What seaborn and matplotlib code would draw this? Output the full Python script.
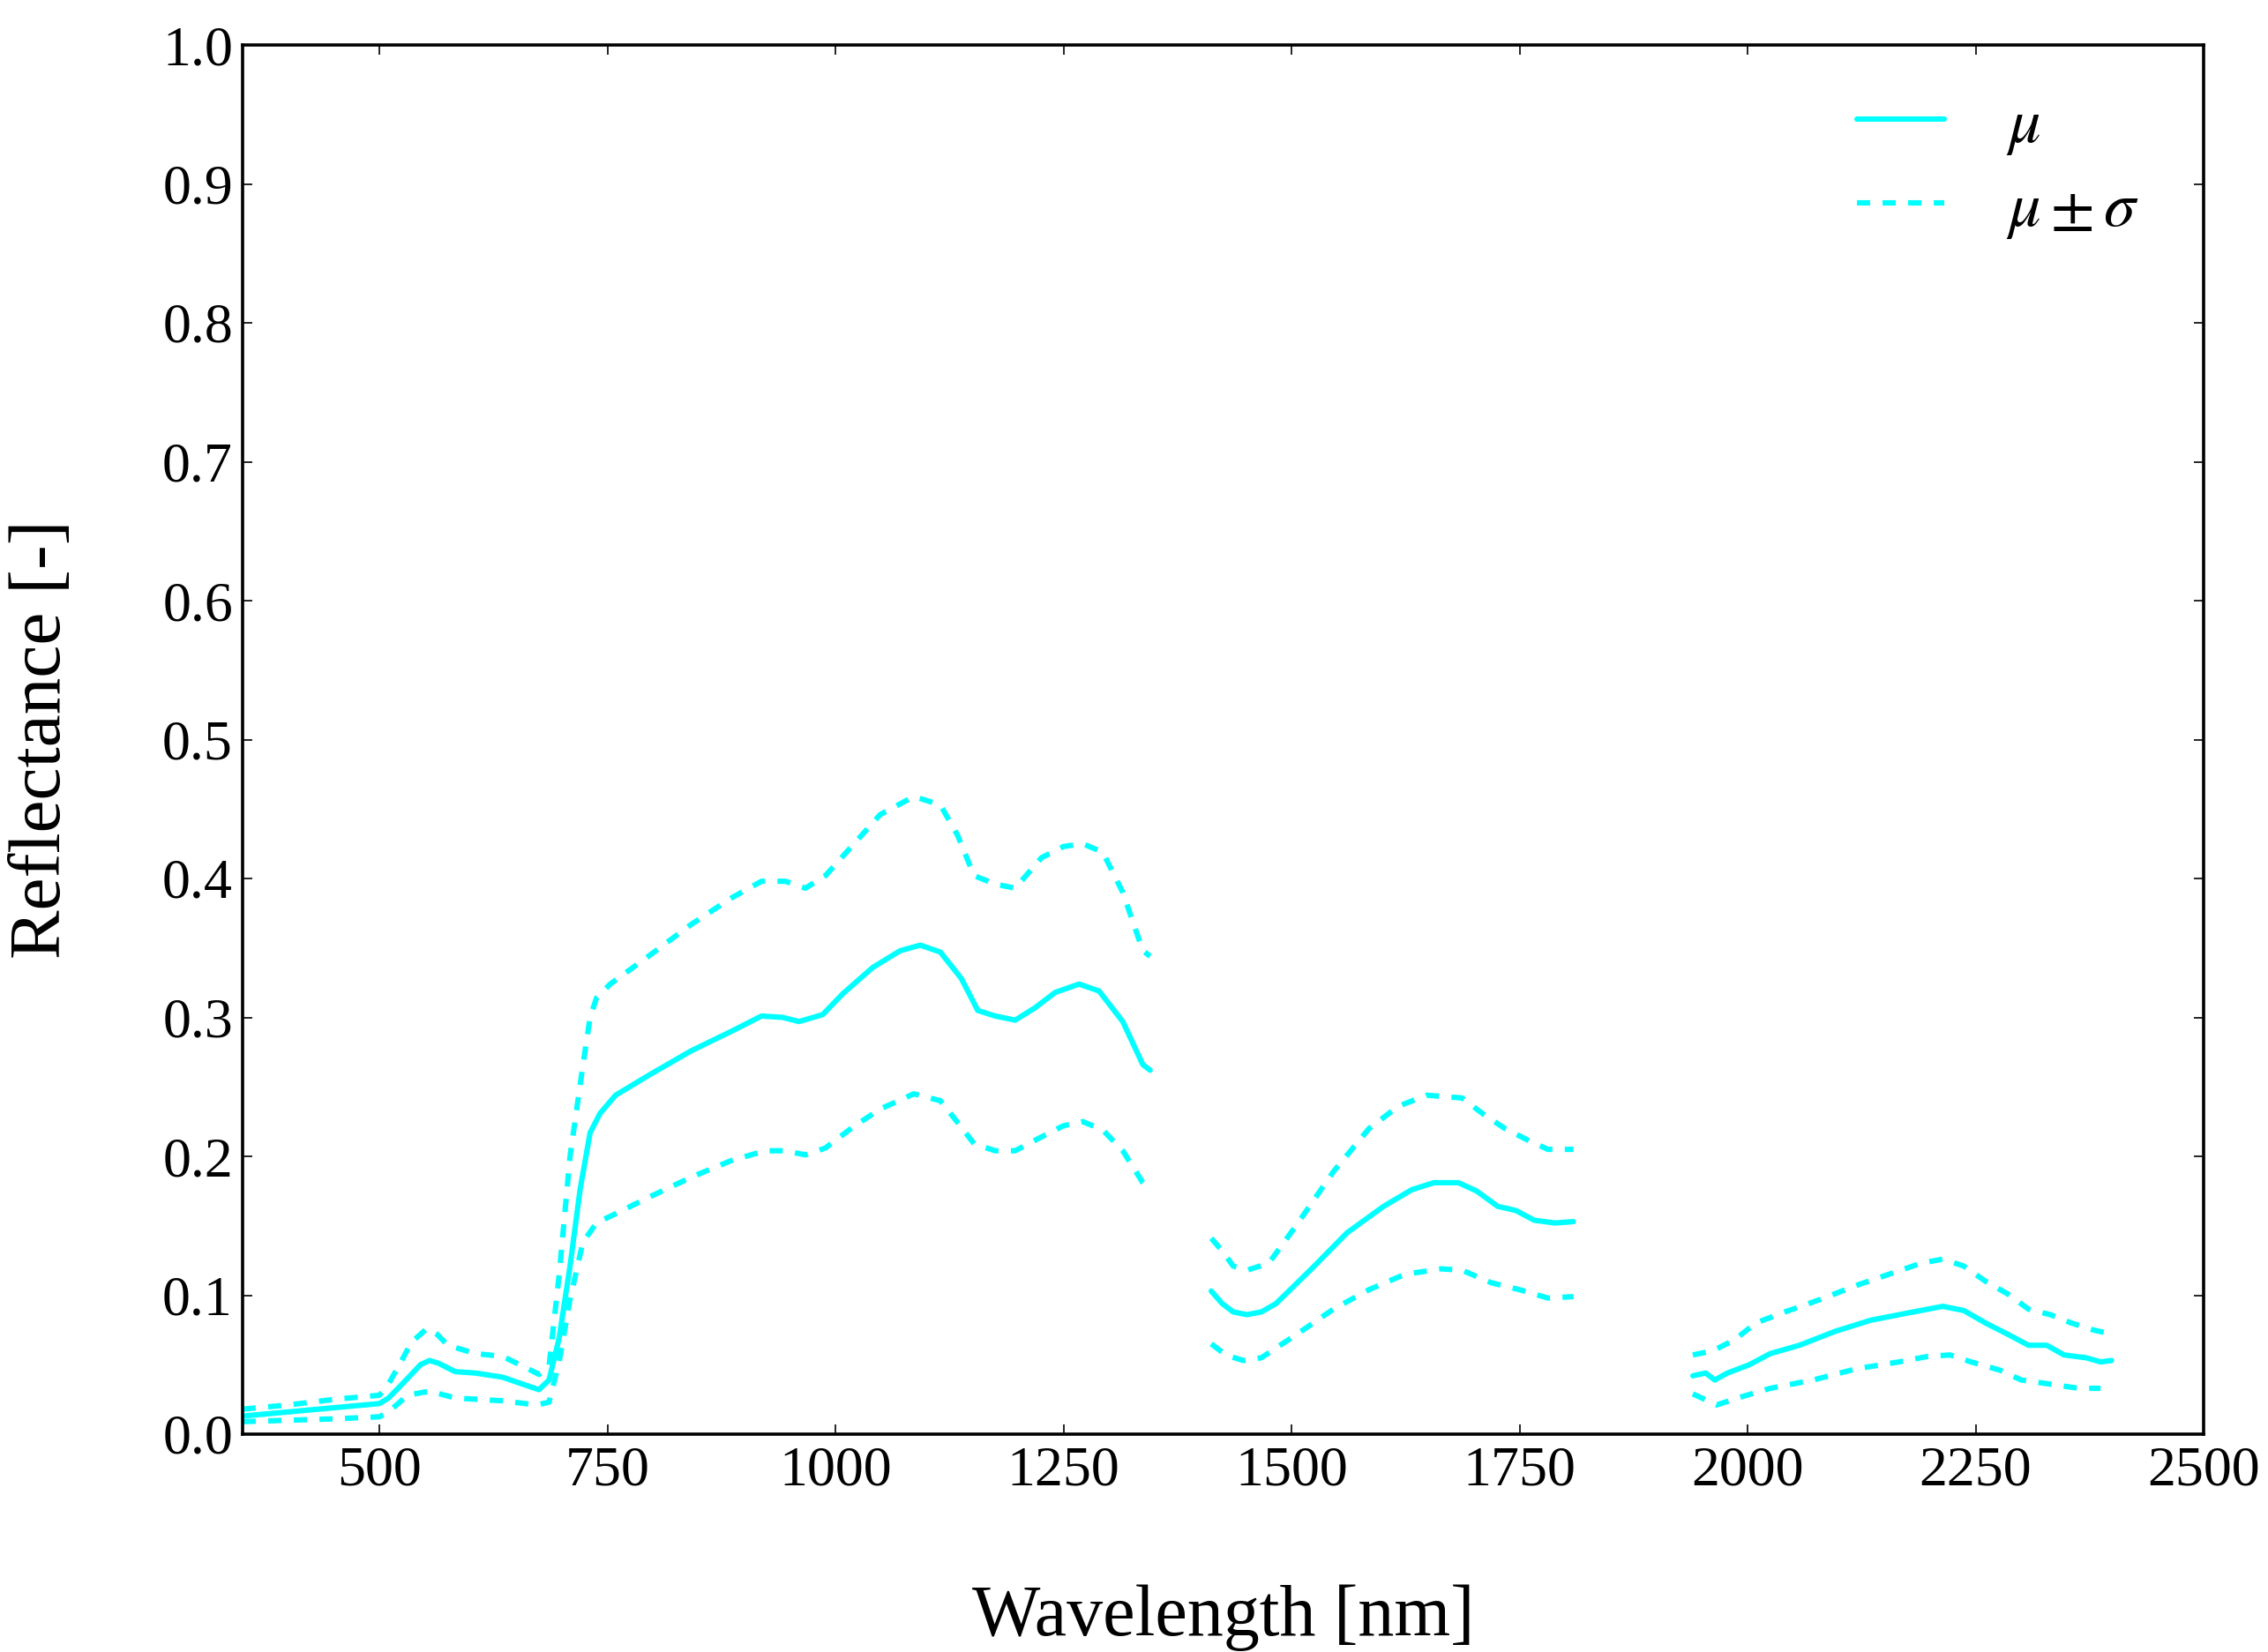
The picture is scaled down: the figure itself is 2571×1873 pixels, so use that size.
import numpy as np
import pandas as pd
import matplotlib
matplotlib.use("Agg")
import matplotlib.pyplot as plt
import seaborn as sns
from matplotlib.lines import Line2D

# ---- data ----
mean_wl = [350, 400, 450, 500, 510, 522, 535, 545, 555, 565, 583, 605, 635, 657, 675, 686, 697, 709, 720,
           731, 742, 759, 797, 842, 886, 919, 942, 960, 986, 1008, 1041, 1071, 1093, 1115, 1138, 1156,
           1175, 1197, 1219, 1241, 1267, 1289, 1315, 1337, 1345,
           1412, 1424, 1436, 1451, 1467, 1483, 1522, 1561, 1601, 1632, 1656, 1683, 1703, 1726, 1746,
           1766, 1789, 1809,
           1940, 1954, 1964, 1978, 2002, 2025, 2057, 2096, 2135, 2174, 2214, 2237, 2261, 2285, 2308,
           2328, 2347, 2371, 2387, 2399]
mean_val = [0.013, 0.016, 0.019, 0.022, 0.026, 0.034, 0.043, 0.050, 0.053, 0.051, 0.045, 0.044, 0.041,
            0.036, 0.032, 0.039, 0.069, 0.121, 0.176, 0.217, 0.231, 0.244, 0.259, 0.276, 0.290, 0.301,
            0.300, 0.297, 0.302, 0.317, 0.336, 0.348, 0.352, 0.347, 0.328, 0.305, 0.301, 0.298, 0.307,
            0.318, 0.324, 0.319, 0.297, 0.266, 0.262,
            0.103, 0.094, 0.088, 0.086, 0.088, 0.094, 0.119, 0.145, 0.164, 0.176, 0.181, 0.181, 0.175,
            0.164, 0.161, 0.154, 0.152, 0.153,
            0.042, 0.044, 0.039, 0.044, 0.050, 0.058, 0.064, 0.074, 0.082, 0.087, 0.092, 0.089, 0.080,
            0.072, 0.064, 0.064, 0.057, 0.055, 0.052, 0.053]

upper_wl = [350, 400, 450, 500, 509, 522, 535, 552, 563, 575, 605, 635, 657, 675, 686, 697, 709, 723,
            731, 738, 753, 797, 842, 886, 919, 945, 967, 989, 1019, 1049, 1086, 1115, 1134, 1152, 1175,
            1197, 1226, 1250, 1271, 1293, 1315, 1337, 1345,
            1412, 1424, 1436, 1451, 1475, 1506, 1546, 1585, 1617, 1648, 1687, 1711, 1734, 1758, 1781,
            1809,
            1940, 1962, 1986, 2009, 2041, 2080, 2119, 2159, 2190, 2214, 2237, 2261, 2285, 2308, 2332,
            2355, 2379, 2399]
upper_val = [0.018, 0.021, 0.025, 0.028, 0.035, 0.050, 0.066, 0.076, 0.072, 0.064, 0.058, 0.056, 0.049,
             0.043, 0.049, 0.114, 0.200, 0.265, 0.300, 0.314, 0.324, 0.345, 0.367, 0.386, 0.398, 0.398,
             0.393, 0.402, 0.424, 0.446, 0.459, 0.453, 0.431, 0.402, 0.396, 0.393, 0.415, 0.423, 0.425,
             0.419, 0.390, 0.348, 0.344,
             0.141, 0.132, 0.121, 0.118, 0.123, 0.151, 0.189, 0.220, 0.236, 0.244, 0.242, 0.230, 0.220,
             0.212, 0.205, 0.205,
             0.057, 0.060, 0.068, 0.080, 0.088, 0.097, 0.107, 0.116, 0.123, 0.126, 0.121, 0.110, 0.101,
             0.090, 0.086, 0.080, 0.075, 0.072]

lower_wl = [350, 400, 450, 500, 510, 531, 555, 583, 635, 672, 686, 697, 709, 723, 738, 760, 797, 842,
            886, 923, 945, 967, 989, 1019, 1049, 1086, 1115, 1138, 1152, 1175, 1197, 1226, 1250, 1271,
            1293, 1315, 1337, 1345,
            1412, 1428, 1447, 1467, 1506, 1546, 1585, 1624, 1664, 1687, 1719, 1750, 1781, 1809,
            1940, 1966, 1994, 2025, 2072, 2119, 2166, 2198, 2222, 2245, 2277, 2300, 2332, 2363, 2387]
lower_val = [0.009, 0.010, 0.011, 0.0125, 0.016, 0.028, 0.031, 0.026, 0.024, 0.021, 0.023, 0.052, 0.097,
             0.138, 0.152, 0.159, 0.171, 0.185, 0.197, 0.204, 0.204, 0.201, 0.206, 0.221, 0.234, 0.245,
             0.240, 0.221, 0.209, 0.204, 0.204, 0.214, 0.222, 0.225, 0.219, 0.204, 0.181, 0.176,
             0.065, 0.057, 0.053, 0.055, 0.072, 0.090, 0.104, 0.115, 0.119, 0.118, 0.109, 0.104, 0.098,
             0.099,
             0.029, 0.021, 0.027, 0.033, 0.039, 0.047, 0.052, 0.056, 0.057, 0.052, 0.046, 0.039, 0.036,
             0.033, 0.033]

x_ticks = [500, 750, 1000, 1250, 1500, 1750, 2000, 2250, 2500]
y_ticks = [0.0, 0.1, 0.2, 0.3, 0.4, 0.5, 0.6, 0.7, 0.8, 0.9, 1.0]


def to_frame(wl, val, name):
    wl = np.asarray(wl, float)
    seg = np.concatenate([[0], np.cumsum(np.diff(wl) > 60)])
    return pd.DataFrame({"wl": wl, "r": val, "seg": seg, "series": name})


df_mean = to_frame(mean_wl, mean_val, "mean")
df_up = to_frame(upper_wl, upper_val, "upper")
df_lo = to_frame(lower_wl, lower_val, "lower")

sns.set_style("ticks")
plt.rcParams["font.family"] = ["Liberation Serif", "DejaVu Serif"]
plt.rcParams["mathtext.fontset"] = "stix"
plt.rcParams["text.color"] = "black"
plt.rcParams["axes.labelcolor"] = "black"

W, H, DPI = 2571, 1873, 200
fig = plt.figure(figsize=(W / DPI, H / DPI), dpi=DPI)
ax = fig.add_axes([275 / W, 1 - 1626 / H, (2498 - 275) / W, (1626 - 51) / H])

cyan = "#00ffff"
lw = 2.2
dash = (2.45, 2.3)
sns.lineplot(data=df_mean, x="wl", y="r", units="seg", estimator=None, sort=False,
             color=cyan, lw=lw, ax=ax)
n_mean = len(ax.get_lines())
for d in (df_up, df_lo):
    sns.lineplot(data=d, x="wl", y="r", units="seg", estimator=None, sort=False,
                 color=cyan, lw=lw, ax=ax)
for ln in ax.get_lines()[n_mean:]:
    ln.set_dashes(dash)

ax.set_xlim(350, 2500)
ax.set_ylim(0, 1.0)
ax.set_xticks(x_ticks)
ax.set_yticks(y_ticks)
ax.set_yticklabels([f"{v:.1f}" for v in y_ticks])

for s in ax.spines.values():
    s.set_linewidth(1.3)
    s.set_color("black")
ax.tick_params(direction="in", top=True, right=True, length=4, width=0.6,
               labelsize=23, colors="black")
ax.tick_params(axis="x", pad=5)
ax.tick_params(axis="y", pad=4)

ax.set_xlabel("Wavelength [nm]", fontsize=29.5, color="black")
ax.set_ylabel("Reflectance [-]", fontsize=30, color="black")
ax.xaxis.set_label_coords(0.5, -0.108)
ax.yaxis.set_label_coords(-0.085, 0.5)

h1 = Line2D([], [], color=cyan, lw=lw)
h2 = Line2D([], [], color=cyan, lw=lw, dashes=dash)
ax.legend([h1, h2], [r"$\mu$", r"$\mu \pm \sigma$"], frameon=False, fontsize=26,
          loc="upper right", bbox_to_anchor=(0.994, 1.0), handlelength=1.37,
          handletextpad=0.98, labelspacing=0.38, borderaxespad=0.42)

fig.savefig("out.png", dpi=DPI)
